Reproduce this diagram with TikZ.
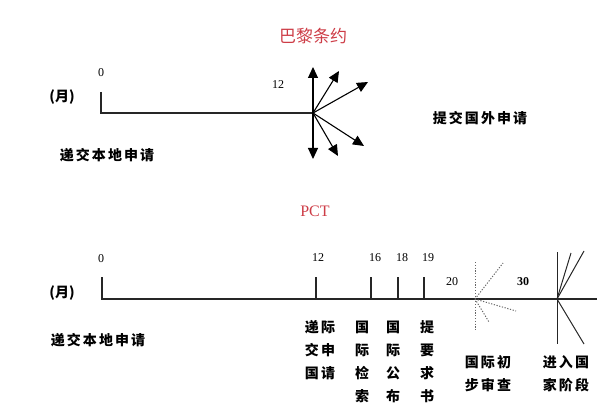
\documentclass[tikz,border=0pt]{standalone}
\usepackage{fontspec}
\setmainfont{Liberation Serif}
\newfontfamily\cjk[LetterSpace=15]{Noto Sans CJK SC}
\newfontfamily\cjkr{Noto Sans CJK SC}
\usetikzlibrary{arrows.meta}
\definecolor{tred}{RGB}{205,60,70}
\tikzset{
  axis/.style={line width=1.2pt, black!85},
  num/.style={font=\fontsize{12}{12}\selectfont, inner sep=0pt},
  lab/.style={font=\cjk\bfseries\fontsize{14}{23}\selectfont, inner sep=0pt, align=center},
  mon/.style={font=\cjkr\bfseries\fontsize{14}{14}\selectfont, inner sep=0pt},
  arr/.style={line width=1.1pt, black, -{Triangle[length=11pt,width=10pt]}},
  dotl/.style={line width=1pt, dash pattern=on 1.2pt off 1.6pt, black!60},
  ray/.style={line width=1pt, black!85},
}
\begin{document}
\begin{tikzpicture}[x=1pt,y=-1pt]
\useasboundingbox (0,0) rectangle (615,414);
% ---------- Paris Convention ----------
\node[font=\cjkr\fontsize{17}{17}\selectfont, text=tred, inner sep=0pt] (t1) at (313,36) {巴黎条约};
\node[num] (n0a) at (101,73) {0};
\node[num] (n12a) at (278,85) {12};
\node[mon] (ma) at (62,97) {(月)};
\node[lab] (la) at (107,155) {递交本地申请};
\node[lab] (ra) at (480,118) {提交国外申请};
\coordinate (a0t) at (101,92);
\coordinate (a0) at (101,113);
\coordinate (c) at (313,113);
\draw[axis] (a0t) -- (a0) -- (c);
\coordinate (e1) at (313,67);
\coordinate (e2) at (313,159);
\coordinate (e3) at (339,71);
\coordinate (e4) at (368,82);
\coordinate (e5) at (364,146);
\coordinate (e6) at (338,156);
\foreach \e in {e1,e2,e3,e4,e5,e6} \draw[arr] (c) -- (\e);
% ---------- PCT ----------
\node[font=\fontsize{16}{16}\selectfont, text=tred, inner sep=0pt] (t2) at (315,211) {PCT};
\node[num] (p0) at (101,259) {0};
\node[num] (p12) at (318,258) {12};
\node[num] (p16) at (375,258) {16};
\node[num] (p18) at (402,258) {18};
\node[num] (p19) at (428,258) {19};
\node[num] (p20) at (452,282) {20};
\node[num, font=\bfseries\fontsize{12}{12}\selectfont] (p30) at (523,282) {30};
\node[mon] (mb) at (62,293) {(月)};
\node[lab] (lb) at (98,340) {递交本地申请};
\coordinate (b0t) at (102,277);
\coordinate (b0) at (102,299);
\coordinate (bend) at (597,299);
\draw[axis] (b0t) -- (b0) -- (bend);
\foreach \x in {316,371,398,424} {
  \draw[axis] (\x,277) -- (\x,299);
}
% dotted burst
\coordinate (d) at (475,299);
\coordinate (d1) at (475,262);
\coordinate (d2) at (475,331);
\coordinate (d3) at (503,263);
\coordinate (d4) at (516,311);
\coordinate (d5) at (489,322);
\draw[dotl] (d1) -- (d2);
\draw[dotl] (d) -- (d3);
\draw[dotl] (d) -- (d4);
\draw[dotl] (d) -- (d5);
% solid burst
\coordinate (s) at (557,299);
\coordinate (s1) at (557,252);
\coordinate (s2) at (557,344);
\coordinate (s3) at (571,253);
\coordinate (s4) at (584,251);
\coordinate (s5) at (584,344);
\draw[ray] (s1) -- (s2);
\draw[ray] (s) -- (s3);
\draw[ray] (s) -- (s4);
\draw[ray] (s) -- (s5);
% labels below
\node[lab] (q1) at (320,350) {递际\\交申\\国请};
\node[lab] (q2) at (362,361.5) {国\\际\\检\\索};
\node[lab] (q3) at (393,361.5) {国\\际\\公\\布};
\node[lab] (q4) at (427,361.5) {提\\要\\求\\书};
\node[lab] (q5) at (488,373.5) {国际初\\步审查};
\node[lab] (q6) at (566,373.5) {进入国\\家阶段};
\end{tikzpicture}
\end{document}
